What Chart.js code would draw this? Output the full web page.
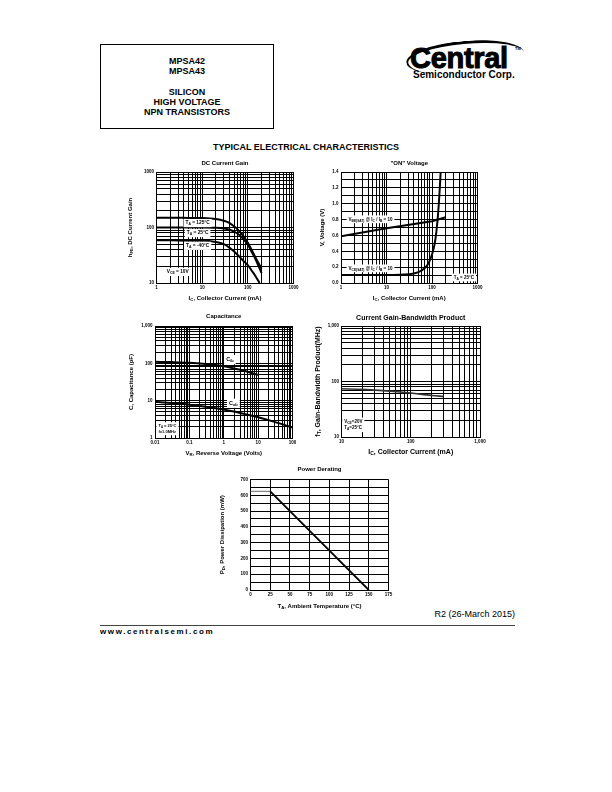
<!DOCTYPE html>
<html>
<head>
<meta charset="utf-8">
<script src="https://cdn.jsdelivr.net/npm/chart.js@4/dist/chart.umd.min.js"></script>
<style>
body { margin: 0; width: 612px; height: 792px; background: #fff; position: relative; font-family: "Liberation Sans", Arial, sans-serif; color: #000; }
canvas { position: absolute; }
.part { position: absolute; left: 100px; top: 44px; width: 174px; height: 85px; border: 1px solid #000; box-sizing: border-box; text-align: center; font-weight: bold; font-size: 9px; line-height: 10.3px; padding-top: 11px; }
.logo { position: absolute; left: 404px; top: 38px; width: 122px; height: 46px; }
.swoosh { position: absolute; left: 2px; top: 3px; width: 116px; height: 30px; border-radius: 50%; border-top: 3px solid #000; border-left: 2px solid #000; transform: rotate(-5deg); }
.cent { position: absolute; left: 6px; top: 6px; font-size: 29px; font-weight: bold; letter-spacing: -0.3px; -webkit-text-stroke: 1px #000; line-height: 29px; white-space: nowrap; }
.tm { position: absolute; left: 111px; top: 9px; font-size: 4px; font-weight: bold; line-height: 4px; }
.semi { position: absolute; left: 9px; top: 32px; font-size: 10px; font-weight: bold; line-height: 10px; white-space: nowrap; }
.head { position: absolute; left: 0; width: 612px; top: 142px; text-align: center; font-weight: bold; font-size: 9px; }
.rev { position: absolute; right: 97px; top: 609px; font-size: 9px; }
.rule { position: absolute; left: 100px; top: 625px; width: 415px; border-top: 1px solid #444; }
.web { position: absolute; left: 100px; top: 627px; font-size: 8px; font-weight: bold; letter-spacing: 1.6px; }
</style>
</head>
<body>
<div class="part">MPSA42<br>MPSA43<br><br>SILICON<br>HIGH VOLTAGE<br>NPN TRANSISTORS</div>
<div class="logo"><div class="swoosh"></div><div class="cent">Central</div><div class="tm">TM</div><div class="semi">Semiconductor Corp.</div></div>
<div class="head">TYPICAL ELECTRICAL CHARACTERISTICS</div>

<canvas id="gain"></canvas>
<canvas id="onv"></canvas>
<canvas id="cap"></canvas>
<canvas id="ft"></canvas>
<canvas id="pd"></canvas>

<div class="rev">R2 (26-March 2015)</div>
<div class="rule"></div>
<div class="web">www.centralsemi.com</div>

<script>
// DC Current Gain, hFE vs IC (mA)
const gainIc = [1, 2, 5, 10, 20, 30, 40, 50, 60, 70, 80, 100, 120, 150, 200];
const gain125 = [150, 150, 149, 148, 142, 132, 120, 105, 92, 80, 70, 53, 40, 28, 18];
const gain25 = [100, 100, 100, 100, 99, 96, 91, 84, 77, 69, 62, 49, 37, 26, 15];
const gainIcCold = [1, 2, 5, 10, 20, 30, 40, 50, 60, 70, 80, 100, 120, 150, 180];
const gainCold = [59, 59, 58, 58, 55, 50, 43, 37, 32, 28, 25, 21, 17, 13, 10];
const gainXTicks = [1, 10, 100, 1000];
const gainXLabels = ['1', '10', '100', '1000'];
const gainYTicks = [10, 100, 1000];
const gainYLabels = ['10', '100', '1000'];

// "ON" Voltage (V) vs IC (mA)
const vbeIc = [1, 10, 100, 200];
const vbeSat = [0.59, 0.69, 0.78, 0.83];
const vceIc = [1, 10, 20, 40, 60, 80, 100, 115, 125, 135, 145, 155];
const vceSat = [0.10, 0.10, 0.105, 0.12, 0.16, 0.23, 0.36, 0.5, 0.65, 0.85, 1.1, 1.4];
const onXTicks = [1, 10, 100, 1000];
const onXLabels = ['1', '10', '100', '1000'];
const onYTicks = [0, 0.2, 0.4, 0.6, 0.8, 1.0, 1.2, 1.4];
const onYLabels = ['0.0', '0.2', '0.4', '0.6', '0.8', '1.0', '1.2', '1.4'];

// Capacitance (pF) vs VR (V)
const cibV = [0.01, 0.03, 0.1, 0.3, 1, 3, 10];
const cib = [110, 108, 104, 96, 84, 67, 49];
const cobV = [0.01, 0.03, 0.1, 0.3, 1, 3, 10, 30, 100];
const cob = [9.3, 8.6, 7.8, 6.9, 5.8, 4.7, 3.6, 2.7, 1.9];
const capXTicks = [0.01, 0.1, 1, 10, 100];
const capXLabels = ['0.01', '0.1', '1', '10', '100'];
const capYTicks = [1, 10, 100, 1000];
const capYLabels = ['1', '10', '100', '1,000'];

// Current Gain-Bandwidth Product (MHz) vs IC (mA)
const ftIc = [10, 20, 50, 100, 200, 300];
const ftVal = [74, 72, 67, 62, 56, 54];
const ftXTicks = [10, 100, 1000];
const ftXLabels = ['10', '100', '1,000'];
const ftYTicks = [10, 100, 1000];
const ftYLabels = ['10', '100', '1,000'];

// Power Derating, PD (mW) vs TA (°C)
const pdTemp = [0, 25, 150];
const pdVal = [625, 625, 0];
const pdXTicks = [0, 25, 50, 75, 100, 125, 150, 175];
const pdXLabels = ['0', '25', '50', '75', '100', '125', '150', '175'];
const pdYTicks = [0, 100, 200, 300, 400, 500, 600, 700];
const pdYLabels = ['0', '100', '200', '300', '400', '500', '600', '700'];

const FONT = '"Liberation Sans", Arial, sans-serif';
// room kept for tick labels (the scale box clips its labels)
const YAXIS_W = 18;
const XAXIS_H = 9;

function logGrid(lo, hi) {
	const v = [];
	for (let e = Math.log10(lo); e < Math.log10(hi) - 1e-9; e++) {
		for (let m = 1; m < 10; m++) v.push(+(m * Math.pow(10, e)).toPrecision(6));
	}
	v.push(hi);
	return v;
}
function linGrid(lo, hi, step) {
	const v = [];
	for (let t = lo; t <= hi + 1e-9; t += step) v.push(+t.toFixed(4));
	return v;
}
function pts(xs, ys) {
	return xs.map((x, i) => ({ x: x, y: ys[i] }));
}

// axis: grid lines at every value of "grid", labels only at the named ticks
function axis(type, grid, ticks, labels, size) {
	return {
		type: type,
		min: grid[0],
		max: grid[grid.length - 1],
		afterBuildTicks: s => { s.ticks = grid.map(v => ({ value: v })); },
		afterFit: s => { if (s.isHorizontal()) s.height = XAXIS_H; else s.width = YAXIS_W; },
		ticks: {
			autoSkip: false, maxRotation: 0, minRotation: 0, padding: 2.5, color: '#000',
			font: { family: FONT, size: size || 4.5, weight: 'bold' },
			callback: v => {
				const i = ticks.findIndex(t => Math.abs(t - v) <= Math.abs(t) * 1e-6 + 1e-9);
				return i < 0 ? '' : labels[i];
			}
		},
		grid: { color: '#000', lineWidth: 1, drawTicks: false },
		border: { color: '#000', width: 1 }
	};
}

// text with {subscript} parts
function parts(s) {
	return s.split(/(\{[^}]*\})/).filter(p => p.length).map(p => p[0] === '{' ? { t: p.slice(1, -1), sub: true } : { t: p, sub: false });
}
function richWidth(ctx, s, size) {
	let w = 0;
	parts(s).forEach(p => {
		ctx.font = 'bold ' + (p.sub ? size * 0.72 : size) + 'px ' + FONT;
		w += ctx.measureText(p.t).width;
	});
	return w;
}
function rich(ctx, s, x, y, size, align) {
	const w = richWidth(ctx, s, size);
	let cx = align === 'center' ? x - w / 2 : (align === 'right' ? x - w : x);
	ctx.textAlign = 'left';
	ctx.textBaseline = 'middle';
	parts(s).forEach(p => {
		ctx.font = 'bold ' + (p.sub ? size * 0.72 : size) + 'px ' + FONT;
		ctx.fillText(p.t, cx, p.sub ? y + size * 0.3 : y);
		cx += ctx.measureText(p.t).width;
	});
}

const pageText = {
	id: 'pageText',
	afterDraw(chart, args, o) {
		const ctx = chart.ctx;
		const a = chart.chartArea;
		const mx = (a.left + a.right) / 2;
		const my = (a.top + a.bottom) / 2;
		ctx.save();
		ctx.fillStyle = '#000';
		rich(ctx, o.title, mx, o.titleY - o.oy, o.titleSize, 'center');
		rich(ctx, o.xTitle, mx, o.xTitleY - o.oy, o.axisSize, 'center');
		ctx.save();
		ctx.translate(o.yTitleX - o.ox, my);
		ctx.rotate(-Math.PI / 2);
		rich(ctx, o.yTitle, 0, 0, o.axisSize, 'center');
		ctx.restore();
		(o.notes || []).forEach(n => {
			const lines = n.text.split('\n');
			const size = n.size || 4.5;
			const lh = size * 1.5;
			const w = Math.max(...lines.map(l => richWidth(ctx, l, size)));
			const x = a.left + n.fx * (a.right - a.left);
			const y = a.top + n.fy * (a.bottom - a.top);
			const left = n.align === 'left' ? x : x - w / 2;
			const h = lh * lines.length;
			ctx.fillStyle = '#fff';
			ctx.fillRect(left - 2, y - lh / 2 - 0.5, w + 4, h + 1);
			ctx.fillStyle = '#000';
			lines.forEach((l, i) => rich(ctx, l, left, y + i * lh, size, 'left'));
		});
		ctx.restore();
	}
};

function makeChart(id, rect, plot, scales, datasets, text) {
	const el = document.getElementById(id);
	el.width = rect[2];
	el.height = rect[3];
	el.style.left = rect[0] + 'px';
	el.style.top = rect[1] + 'px';
	text.ox = rect[0];
	text.oy = rect[1];
	return new Chart(el, {
		type: 'line',
		data: { datasets: datasets },
		options: {
			responsive: false,
			animation: false,
			devicePixelRatio: 1,
			layout: {
				padding: {
					left: plot[0] - rect[0] - YAXIS_W,
					top: plot[1] - rect[1],
					right: rect[0] + rect[2] - plot[2],
					bottom: rect[1] + rect[3] - plot[3] - XAXIS_H
				}
			},
			plugins: { legend: { display: false }, tooltip: { enabled: false }, title: { display: false }, pageText: text },
			elements: {
				point: { radius: 0 },
				line: { borderColor: '#000', borderWidth: 2, cubicInterpolationMode: 'monotone', fill: false }
			},
			scales: scales
		},
		plugins: [pageText]
	});
}

document.addEventListener('DOMContentLoaded', () => {
	// DC Current Gain
	makeChart('gain', [112, 156, 192, 150], [156.5, 172, 293.5, 283], {
		x: axis('logarithmic', logGrid(1, 1000), gainXTicks, gainXLabels),
		y: axis('logarithmic', logGrid(10, 1000), gainYTicks, gainYLabels)
	}, [
		{ data: pts(gainIc, gain125) },
		{ data: pts(gainIc, gain25) },
		{ data: pts(gainIcCold, gainCold) }
	], {
		title: 'DC Current Gain', titleY: 163, titleSize: 6,
		xTitle: 'I{C}, Collector Current (mA)', xTitleY: 298,
		yTitle: 'h{FE}, DC Current Gain', yTitleX: 130, axisSize: 6,
		notes: [
			{ text: 'T{A} = 125°C', fx: 0.30, fy: 0.46, size: 4.8 },
			{ text: 'T{A} = 25°C', fx: 0.30, fy: 0.55, size: 4.8 },
			{ text: 'T{A} = -40°C', fx: 0.30, fy: 0.665, size: 4.8 },
			{ text: 'V{CE} = 10V', fx: 0.155, fy: 0.9, size: 4.8 }
		]
	});

	// "ON" Voltage
	makeChart('onv', [305, 156, 190, 150], [341, 172, 477.5, 283], {
		x: axis('logarithmic', logGrid(1, 1000), onXTicks, onXLabels),
		y: axis('linear', linGrid(0, 1.4, 0.1), onYTicks, onYLabels)
	}, [
		{ data: pts(vbeIc, vbeSat), cubicInterpolationMode: 'default', tension: 0 },
		{ data: pts(vceIc, vceSat) }
	], {
		title: '"ON" Voltage', titleY: 163, titleSize: 6,
		xTitle: 'I{C}, Collector Current (mA)', xTitleY: 298,
		yTitle: 'V, Voltage (V)', yTitleX: 322, axisSize: 6,
		notes: [
			{ text: 'V{BE(SAT)} @ I{C} / I{B} = 10', fx: 0.216, fy: 0.426 },
			{ text: 'V{CE(SAT)} @ I{C} / I{B} = 10', fx: 0.216, fy: 0.868 },
			{ text: 'T{A} = 25°C', fx: 0.9, fy: 0.95 }
		]
	});

	// Capacitance
	makeChart('cap', [112, 310, 192, 150], [155, 326, 292.5, 438], {
		x: axis('logarithmic', logGrid(0.01, 100), capXTicks, capXLabels),
		y: axis('logarithmic', logGrid(1, 1000), capYTicks, capYLabels)
	}, [
		{ data: pts(cibV, cib) },
		{ data: pts(cobV, cob) }
	], {
		title: 'Capacitance', titleY: 316, titleSize: 6,
		xTitle: 'V{R}, Reverse Voltage (Volts)', xTitleY: 453,
		yTitle: 'C, Capacitance (pF)', yTitleX: 131, axisSize: 6,
		notes: [
			{ text: 'C{ib}', fx: 0.545, fy: 0.3, size: 5.5 },
			{ text: 'C{ob}', fx: 0.57, fy: 0.69, size: 5.5 },
			{ text: 'T{A} = 25°C\nf=1.0MHz', fx: 0.025, fy: 0.89, align: 'left', size: 4 }
		]
	});

	// Current Gain-Bandwidth Product
	makeChart('ft', [305, 308, 190, 152], [341.5, 326, 480, 437], {
		x: axis('logarithmic', logGrid(10, 1000), ftXTicks, ftXLabels),
		y: axis('logarithmic', logGrid(10, 1000), ftYTicks, ftYLabels)
	}, [
		{ data: pts(ftIc, ftVal), borderColor: '#333', borderWidth: 1.6 }
	], {
		title: 'Current Gain-Bandwidth Product', titleY: 318, titleSize: 7,
		xTitle: 'I{C}, Collector Current (mA)', xTitleY: 452,
		yTitle: 'f{T}, Gain-Bandwidth Product(MHz)', yTitleX: 318, axisSize: 7,
		notes: [
			{ text: 'V{CE}=20V\nT{A}=25°C', fx: 0.02, fy: 0.86, align: 'left', size: 4.5 }
		]
	});

	// Power Derating
	makeChart('pd', [210, 462, 190, 150], [250.5, 479.5, 388.5, 590], {
		x: axis('linear', linGrid(0, 175, 25), pdXTicks, pdXLabels),
		y: axis('linear', linGrid(0, 700, 50), pdYTicks, pdYLabels)
	}, [
		{
			data: pts(pdTemp, pdVal), tension: 0, cubicInterpolationMode: 'default',
			segment: {
				borderColor: c => c.p0DataIndex === 0 ? '#888' : '#000',
				borderWidth: c => c.p0DataIndex === 0 ? 1.2 : 1.8
			}
		}
	], {
		title: 'Power Derating', titleY: 469, titleSize: 6,
		xTitle: 'T{A}, Ambient Temperature (°C)', xTitleY: 606,
		yTitle: 'P{D}, Power Dissipation (mW)', yTitleX: 222, axisSize: 6
	});
});
</script>
</body>
</html>
